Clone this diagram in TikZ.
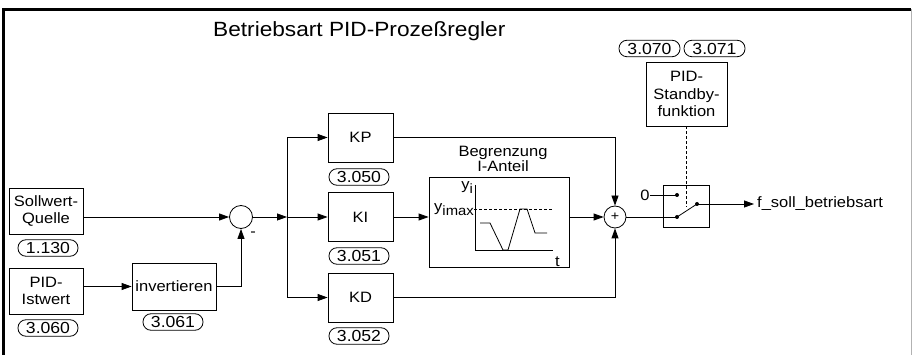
\documentclass[tikz,border=0pt]{standalone}
\usepackage{fontspec}
\setmainfont{Liberation Sans}[FakeStretch=1.1]
\usetikzlibrary{arrows.meta}
\newcommand{\mysub}[1]{{\fontsize{13.5}{14}\selectfont\raisebox{-3.5pt}{#1}}}
\begin{document}
\begin{tikzpicture}[x=1pt,y=-1pt,
  every node/.style={font=\fontsize{15}{17.5}\selectfont},
  blk/.style={draw,line width=0.8pt,align=center,inner sep=0pt},
  lbl/.style={draw,line width=0.8pt,rounded corners=8pt,minimum width=60pt,minimum height=16.5pt,inner sep=0pt,font=\fontsize{16}{18}\selectfont},
  ln/.style={line width=0.8pt},
  arr/.style={ln,-{Triangle[length=10pt,width=7pt]}},
  dot/.style={circle,fill,inner sep=0pt,minimum size=4pt},
  dsh/.style={ln,dash pattern=on 3pt off 2pt}
]
\useasboundingbox (0,0) rectangle (912,355);
% frame
\draw[line width=2.5pt] (3.5,355) -- (3.5,9.5) -- (911,9.5);
\draw[gray!60,line width=1pt] (911,9.5) -- (911,355);

\node[font=\fontsize{20.6}{24}\selectfont,anchor=base west,inner sep=0pt] (title) at (213,37) {Betriebsart PID-Prozeßregler};

% inputs
\node[blk,minimum width=74pt,minimum height=46pt] (soll) at (46,211) {Sollwert-\\Quelle};
\node[lbl] (l1130) at (48,248) {1.130};
\node[blk,minimum width=74pt,minimum height=46pt] (ist) at (46,291) {PID-\\Istwert};
\node[lbl] (l3060) at (48,328) {3.060};
\node[blk,minimum width=84pt,minimum height=47pt] (inv) at (174,286.5) {invertieren};
\node[lbl] (l3061) at (173,322) {3.061};
\node[draw,circle,ln,minimum size=23pt,inner sep=0pt] (s1) at (241,217) {};
\node[inner sep=0pt] (minus) at (253,234) {-};
\coordinate (br) at (287,217);

% PID blocks
\node[blk,minimum width=65pt,minimum height=49pt] (kp) at (360.5,137.5) {KP};
\node[lbl] (l3050) at (359,177) {3.050};
\node[blk,minimum width=65pt,minimum height=49pt] (ki) at (360.5,217) {KI};
\node[lbl] (l3051) at (359,256) {3.051};
\node[blk,minimum width=65pt,minimum height=49pt] (kd) at (360.5,297.5) {KD};
\node[lbl] (l3052) at (359,336) {3.052};

% limiter
\node[blk,minimum width=140pt,minimum height=90pt] (bg) at (499,222) {};
\node[align=center,inner sep=0pt,font=\fontsize{15}{12}\selectfont] (bgt) at (503,159) {Begrenzung\\I-Anteil};
\draw[ln] (475,185) -- (475,250) -- (553,250);
\draw[dsh] (474,209) -- (553,209);
\draw[ln] (480,223) -- (490,223) -- (503,250) -- (508,250) -- (520,209) -- (527,209) -- (535,233) -- (547,233);
\node[anchor=base east,inner sep=0pt] (yi) at (473,190) {y\mysub{i}};
\node[anchor=base east,inner sep=0pt] (yimax) at (474,212) {y\mysub{imax}};
\node[anchor=base west,inner sep=0pt] (tl) at (555,266) {t};

% sum 2 and switch
\node[draw,circle,ln,minimum size=22pt,inner sep=0pt,font=\fontsize{13}{15}\selectfont] (s2) at (615,217) {+};
\node[blk,minimum width=46pt,minimum height=42pt] (sw) at (686,206) {};
\node[dot] (d1) at (677,195) {};
\node[dot] (d2) at (677,217) {};
\node[dot] (d3) at (697,204) {};
\node[inner sep=0pt] (zero) at (645,195) {0};
\node[blk,minimum width=81pt,minimum height=64pt] (sb) at (686.5,94) {PID-\\Standby-\\funktion};
\node[lbl,minimum width=61pt] (l3070) at (649.5,48.5) {3.070};
\node[lbl,minimum width=61pt] (l3071) at (714.5,48.5) {3.071};
\node[anchor=west,inner sep=0pt] (out) at (757,204) {f\_soll\_betriebsart};
\coordinate (dend) at (686.5,207);

% connectors
\draw[arr] (soll.east |- s1.west) -- (s1.west);
\draw[arr] (ist.east |- inv.west) -- (inv.west);
\draw[arr] (inv.east) -| (s1.south);
\draw[arr] (s1.east) -- (br);
\draw[arr] (br) -- (ki.west);
\draw[arr] (br) |- (kp.west);
\draw[arr] (br) |- (kd.west);
\draw[arr] (ki.east) -- (ki.east -| bg.west);
\draw[arr] (bg.east |- s2.west) -- (s2.west);
\draw[arr] (kp.east) -| (s2.north);
\draw[arr] (kd.east) -| (s2.south);
\draw[ln] (s2.east) -- (d2.center);
\draw[ln] (zero.east) -- (d1.center);
\draw[ln] (d2.center) -- (d3.center);
\draw[arr,shorten >=3pt] (d3.center) -- (out.west);
\draw[dsh] (sb.south) -- (dend);
\end{tikzpicture}
\end{document}
